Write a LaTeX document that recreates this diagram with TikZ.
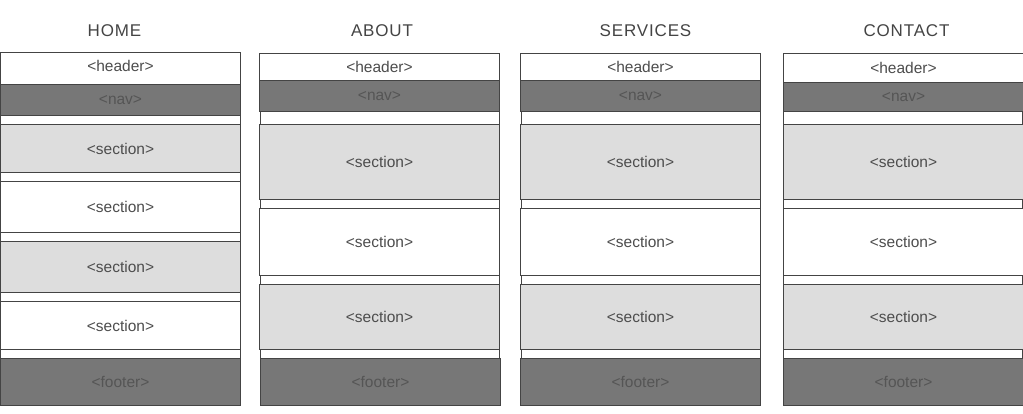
\documentclass[tikz,border=0pt]{standalone}
\usepackage{fontspec}
\setmainfont{Liberation Sans}
\newfontfamily\titlefont[LetterSpace=5]{Liberation Sans}
\definecolor{edgegray}{HTML}{444444}
\definecolor{darkfill}{HTML}{777777}
\definecolor{lightfill}{HTML}{DDDDDD}
\definecolor{textgray}{HTML}{4D4D4D}
\definecolor{titlegray}{HTML}{444444}
\definecolor{navtext}{HTML}{555555}
\tikzset{
  block/.style={draw=edgegray, line width=1pt, fill=white, rectangle,
    inner sep=0pt, outer sep=0pt, anchor=north west, minimum width=240pt,
    text=textgray, font=\fontsize{15.5}{18}\selectfont},
  darkblock/.style={block, fill=darkfill, text=navtext},
  greyblock/.style={block, fill=lightfill},
  pagebody/.style={block, minimum width=239pt},
  coltitle/.style={anchor=base, text=titlegray,
    font=\titlefont\fontsize{17}{20}\selectfont}
}
\begin{document}
\begin{tikzpicture}[x=1pt, y=-1pt]
        \useasboundingbox (0,0) rectangle (1023,414);
        % HOME
        \node[coltitle] (hometitle) at (114.5,37) {HOME};
        \node[pagebody, minimum width=240pt, minimum height=243pt] (homebody) at (0.5,115.5) {};
        \node[block, minimum height=32pt, text height=11pt, text depth=5pt] (homehead) at (0.5,52.5) {<header>};
        \node[darkblock, minimum height=31pt] (homenav) at (0.5,84.5) {<nav>};
        \node[greyblock, minimum height=48pt] (homesecA) at (0.5,124.5) {<section>};
        \node[block, minimum height=51pt] (homesecB) at (0.5,181.5) {<section>};
        \node[greyblock, minimum height=51pt] (homesecC) at (0.5,241.5) {<section>};
        \node[block, minimum height=48pt] (homesecD) at (0.5,301.5) {<section>};
        \node[darkblock, minimum height=47pt] (homefoot) at (0.5,358.5) {<footer>};
        % ABOUT
        \node[coltitle] (abouttitle) at (382,37) {ABOUT};
        \node[pagebody, minimum height=247pt] (aboutbody) at (260.5,111.5) {};
        \node[block, minimum height=27pt] (abouthead) at (259.5,53.5) {<header>};
        \node[darkblock, minimum height=31pt] (aboutnav) at (259.5,80.5) {<nav>};
        \node[greyblock, minimum height=75pt] (aboutsecA) at (259.5,124.5) {<section>};
        \node[block, minimum height=67pt] (aboutsecB) at (259.5,208.5) {<section>};
        \node[greyblock, minimum height=65pt] (aboutsecC) at (259.5,284.5) {<section>};
        \node[darkblock, minimum height=47pt] (aboutfoot) at (260.5,358.5) {<footer>};
        % SERVICES
        \node[coltitle] (servtitle) at (645.5,37) {SERVICES};
        \node[pagebody, minimum height=247pt] (servbody) at (521.5,111.5) {};
        \node[block, minimum height=27pt] (servhead) at (520.5,53.5) {<header>};
        \node[darkblock, minimum height=31pt] (servnav) at (520.5,80.5) {<nav>};
        \node[greyblock, minimum height=75pt] (servsecA) at (520.5,124.5) {<section>};
        \node[block, minimum height=67pt] (servsecB) at (520.5,208.5) {<section>};
        \node[greyblock, minimum height=65pt] (servsecC) at (520.5,284.5) {<section>};
        \node[darkblock, minimum height=47pt] (servfoot) at (520.5,358.5) {<footer>};
        % CONTACT
        \node[coltitle] (contacttitle) at (906.5,37) {CONTACT};
        \node[pagebody, minimum height=247pt] (contactbody) at (783.5,111.5) {};
        \node[block, minimum height=29pt] (contacthead) at (783.5,53.5) {<header>};
        \node[darkblock, minimum height=29pt] (contactnav) at (783.5,82.5) {<nav>};
        \node[greyblock, minimum height=75pt] (contactsecA) at (783.5,124.5) {<section>};
        \node[block, minimum height=67pt] (contactsecB) at (783.5,208.5) {<section>};
        \node[greyblock, minimum height=65pt] (contactsecC) at (783.5,284.5) {<section>};
        \node[darkblock, minimum height=47pt] (contactfoot) at (783.5,358.5) {<footer>};
    \end{tikzpicture}
\end{document}
